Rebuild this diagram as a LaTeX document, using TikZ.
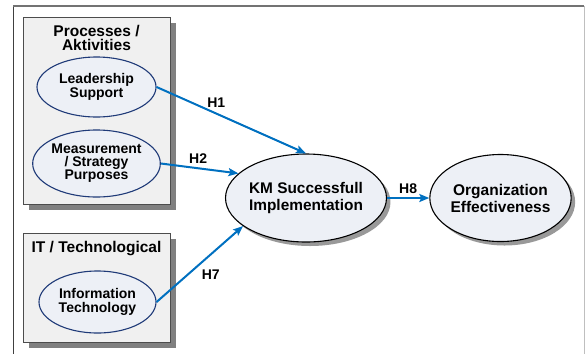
\documentclass[tikz,border=0pt]{standalone}
\usepackage{fontspec}
\setmainfont{Liberation Sans}
\usetikzlibrary{arrows.meta,positioning,shapes.geometric,shadows}
\definecolor{linkblue}{HTML}{0070C0}
\definecolor{ovalfill}{HTML}{EDF0F6}
\definecolor{ovalline}{HTML}{1F3A78}
\definecolor{panelgray}{HTML}{F0F0F0}

\begin{document}
\begin{tikzpicture}[x=1pt, y=-1pt,
  panel/.style={draw=black!70, fill=panelgray, minimum width=147pt, inner sep=0pt,
                drop shadow={shadow xshift=6pt, shadow yshift=-6pt, fill=black!50, opacity=1}},
  heading/.style={inner sep=0pt, align=center, font=\fontsize{15.5}{14}\selectfont\bfseries},
  factor/.style={ellipse, draw=ovalline, line width=1.1pt, fill=ovalfill, minimum width=119pt,
                 minimum height=60pt, inner sep=0pt, align=center,
                 font=\fontsize{14}{14.5}\selectfont\bfseries},
  outcome/.style={ellipse, draw=black, line width=1.1pt, fill=ovalfill, minimum width=146pt,
                  minimum height=88pt, inner sep=0pt, align=center,
                  font=\fontsize{15.4}{17}\selectfont\bfseries,
                  drop shadow={shadow xshift=4pt, shadow yshift=-4pt, fill=black!40, opacity=1}},
  hyp/.style={draw=linkblue, line width=2pt, -{Stealth[length=10pt, width=8pt, inset=2pt]}},
  hlabel/.style={inner sep=1pt, font=\fontsize{14}{14}\selectfont\bfseries},
  >=Stealth]
\useasboundingbox (0,0) rectangle (585,354);
% outer frame, open at the bottom
\draw[black!75, line width=1pt] (13,6) -- (13,354);
\draw[black!55, line width=2pt] (13,6) -- (584,6);
\draw[black!25, line width=1pt] (584,6) -- (584,354);

% left panels
\node[panel, minimum height=187pt] (proc) at (96.5,110.5) {};
\node[heading, below=8pt of proc.north] (prochead) {Processes /\\Aktivities};
\node[panel, minimum height=109pt] (tech) at (96.5,287.5) {};
\node[heading, below=8pt of tech.north] (techhead) {IT / Technological};

\node[factor] (lead) at (96.5,87) {Leadership\\Support};
\node[factor, minimum height=67pt, font=\fontsize{14}{13}\selectfont\bfseries] (meas) at (96.5,163.5)
     {Measurement\\/ Strategy\\Purposes};
\node[factor, minimum width=117pt, minimum height=62pt] (info) at (97.5,302) {Information\\Technology};

% constructs
\node[outcome] (km) at (306,198) {KM Successfull\\Implementation};
\node[outcome, minimum width=141pt, minimum height=87pt, font=\fontsize{15.5}{17}\selectfont\bfseries]
     (org) at (500.5,198) {Organization\\Effectiveness};

\draw[hyp] (lead.east) -- node[hlabel, pos=.4, above=4pt] (h1) {H1} (km.north);
\draw[hyp] (meas.east) -- node[hlabel, pos=.48, above=3pt] (h2) {H2} (km.160);
\draw[hyp] (info.east) -- node[hlabel, pos=.5, below right=4pt and 0pt] (h7) {H7} (km.204);
\draw[hyp] (km.east) -- node[hlabel, above=2pt] (h8) {H8} (org.west);
\end{tikzpicture}
\end{document}
